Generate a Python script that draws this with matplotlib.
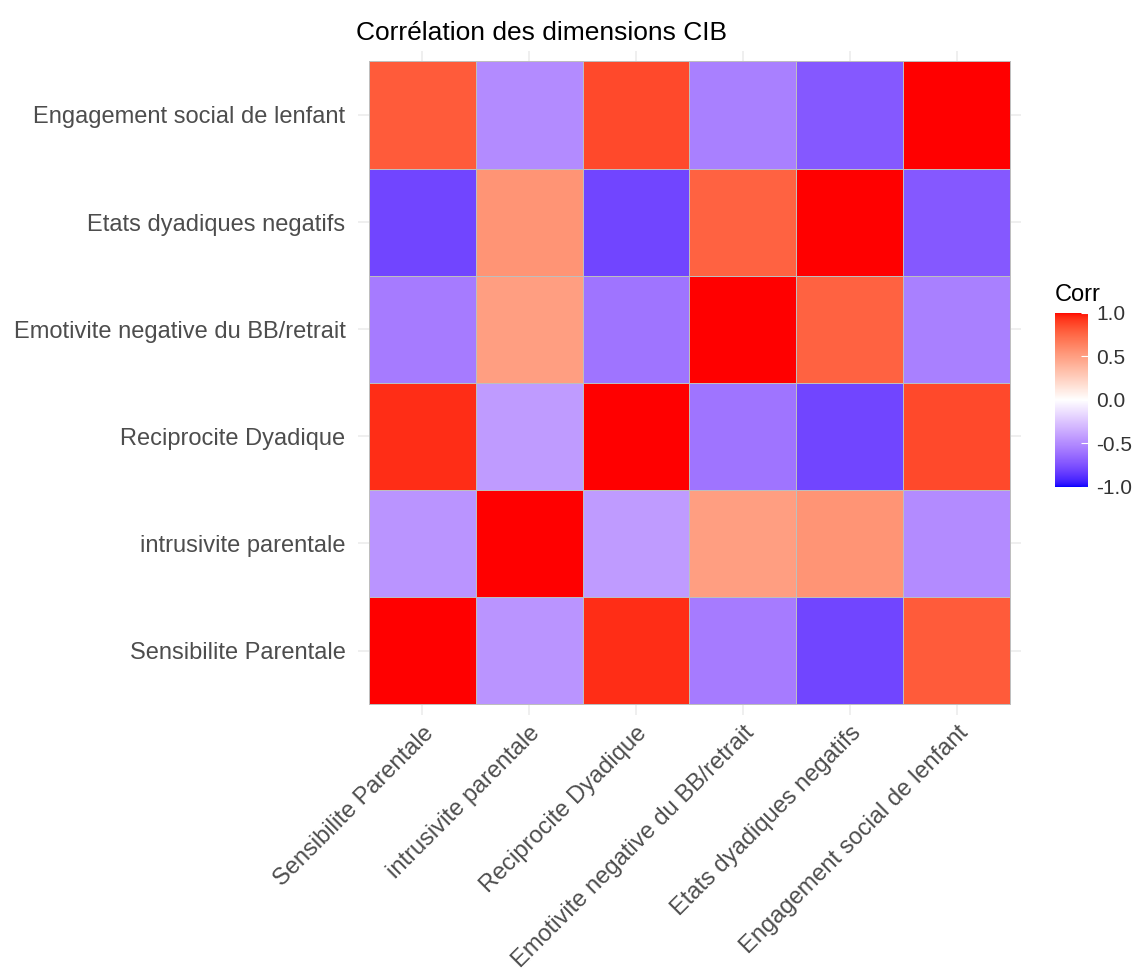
import numpy as np
import matplotlib
matplotlib.use("Agg")
import matplotlib.pyplot as plt
from matplotlib.colors import ListedColormap, Normalize

plt.rcParams['font.family'] = ['Liberation Sans', 'DejaVu Sans']

dims = ["Sensibilite Parentale", "intrusivite parentale", "Reciprocite Dyadique",
        "Emotivite negative du BB/retrait", "Etats dyadiques negatifs",
        "Engagement social de lenfant"]

# correlation matrix, same order as dims
corr_sp = [1.00, -0.46, 0.94, -0.57, -0.80, 0.80]
corr_ip = [-0.46, 1.00, -0.43, 0.50, 0.55, -0.50]
corr_rd = [0.94, -0.43, 1.00, -0.60, -0.80, 0.86]
corr_en = [-0.57, 0.50, -0.60, 1.00, 0.77, -0.55]
corr_ed = [-0.80, 0.55, -0.80, 0.77, 1.00, -0.72]
corr_es = [0.80, -0.50, 0.86, -0.55, -0.72, 1.00]
corr = np.array([corr_sp, corr_ip, corr_rd, corr_en, corr_ed, corr_es])


# blue-white-red gradient interpolated in CIELAB (like scale_fill_gradient2)
def srgb_to_lab(c):
    c = np.asarray(c, float)
    lin = np.where(c <= 0.04045, c / 12.92, ((c + 0.055) / 1.055) ** 2.4)
    M = np.array([[0.4124, 0.3576, 0.1805],
                  [0.2126, 0.7152, 0.0722],
                  [0.0193, 0.1192, 0.9505]])
    xyz = M @ lin / np.array([0.95047, 1.0, 1.08883])
    f = np.where(xyz > 0.008856, np.cbrt(xyz), 7.787 * xyz + 16 / 116)
    return np.array([116 * f[1] - 16, 500 * (f[0] - f[1]), 200 * (f[1] - f[2])])


def lab_to_srgb(lab):
    L, a, b = lab
    fy = (L + 16) / 116
    fx = fy + a / 500
    fz = fy - b / 200
    f = np.array([fx, fy, fz])
    xyz = np.where(f ** 3 > 0.008856, f ** 3, (f - 16 / 116) / 7.787)
    xyz = xyz * np.array([0.95047, 1.0, 1.08883])
    Minv = np.array([[3.2406, -1.5372, -0.4986],
                     [-0.9689, 1.8758, 0.0415],
                     [0.0557, -0.2040, 1.0570]])
    lin = np.clip(Minv @ xyz, 0, 1)
    rgb = np.where(lin <= 0.0031308, 12.92 * lin, 1.055 * lin ** (1 / 2.4) - 0.055)
    return np.clip(rgb, 0, 1)


lab_b = srgb_to_lab([0, 0, 1])
lab_w = srgb_to_lab([1, 1, 1])
lab_r = srgb_to_lab([1, 0, 0])
cols = []
for v in np.linspace(-1, 1, 513):
    if v < 0:
        lab = lab_w + (-v) * (lab_b - lab_w)
    else:
        lab = lab_w + v * (lab_r - lab_w)
    cols.append(lab_to_srgb(lab))
cmap = ListedColormap(cols)
norm = Normalize(-1, 1)

fig = plt.figure(figsize=(11.33, 9.74), dpi=100)
ax = fig.add_axes([0.316, 0.266, 0.585, 0.682])

n = len(dims)
ax.set_axisbelow(True)
ax.grid(True, color='#EBEBEB', linewidth=1.1)
ax.pcolormesh(np.arange(n + 1) - 0.5, np.arange(n + 1) - 0.5, corr,
              cmap=cmap, norm=norm, edgecolors='#BEBEBE', linewidth=0.6, zorder=2)
ax.set_xlim(-0.6, n - 0.4)
ax.set_ylim(-0.6, n - 0.4)
ax.set_xticks(range(n))
ax.set_yticks(range(n))
ax.set_xticklabels(dims, rotation=45, ha='right', rotation_mode='anchor')
ax.set_yticklabels(dims)
ax.tick_params(length=0, labelsize=17, labelcolor='#4D4D4D')
ax.tick_params(axis='y', pad=9)
ax.tick_params(axis='x', pad=5)
for s in ax.spines.values():
    s.set_visible(False)
ax.set_title("Corrélation des dimensions CIB", loc='left', fontsize=19,
             x=-0.003, pad=8)

cax = fig.add_axes([0.931, 0.5, 0.029, 0.179])
cb = fig.colorbar(plt.cm.ScalarMappable(norm=norm, cmap=cmap), cax=cax,
                  ticks=[-1, -0.5, 0, 0.5, 1])
cb.outline.set_visible(False)
cb.ax.set_yticklabels(['-1.0', '-0.5', '0.0', '0.5', '1.0'])
cb.ax.tick_params(length=5, color='white', direction='in', labelsize=15,
                  labelcolor='#333333', pad=6)
cax.text(0, 1.04, "Corr", transform=cax.transAxes, fontsize=17, va='bottom')

fig.savefig("out.png", dpi=100, facecolor='white')
